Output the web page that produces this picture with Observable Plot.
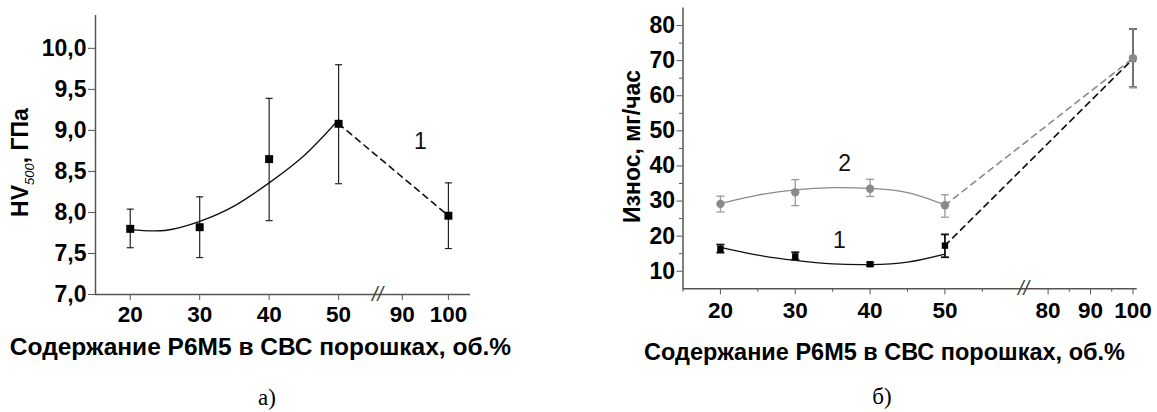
<!DOCTYPE html>
<html>
<head>
<meta charset="utf-8">
<script src="https://cdn.jsdelivr.net/npm/d3@7"></script>
<script src="https://cdn.jsdelivr.net/npm/@observablehq/plot@0.6"></script>
<style>
  body { margin: 0; background: #fff; }
  #wrap { position: relative; width: 1157px; height: 412px; overflow: hidden; background: #fff; }
  .panel { position: absolute; top: 0; }
  .cap { position: absolute; font-family: "Liberation Serif", "Times New Roman", serif; font-size: 23px; line-height: 1; transform: translate(-50%, -50%); white-space: nowrap; }
</style>
</head>
<body>
<div id="wrap">
  <div id="left" class="panel" style="left:0;width:578px"></div>
  <div id="right" class="panel" style="left:578px;width:579px"></div>
  <div class="cap" style="left:267px;top:397px">а)</div>
  <div class="cap" style="left:882px;top:396px">б)</div>
</div>
<script>
// ---------- Panel а): hardness HV500 ----------
const hvX    = [20, 30, 40, 50, 100];
const hvMean = [7.80, 7.82, 8.65, 9.08, 7.96];
const hvLow  = [7.57, 7.45, 7.90, 8.35, 7.56];
const hvHigh = [8.04, 8.19, 9.39, 9.80, 8.36];
// fitted curve (20..50)
const hvFitX = [20, 25, 30, 35, 40, 45, 50];
const hvFitY = [7.79, 7.78, 7.89, 8.08, 8.36, 8.69, 9.13];
const hvYTicks = [7.0, 7.5, 8.0, 8.5, 9.0, 9.5, 10.0];
const hvXTicks = [20, 30, 40, 50, 90, 100];

// ---------- Panel б): wear ----------
const wearX = [20, 30, 40, 50, 100];
const wear1Mean = [16.4, 14.2, 12.0, 17.3, 70.5];
const wear1Low  = [15.3, 13.3, 11.5, 14.0, 62.4];
const wear1High = [17.6, 15.4, 12.5, 20.5, 79.0];
const wear2Mean = [29.2, 32.5, 33.5, 28.8, 70.7];
const wear2Low  = [26.9, 28.7, 31.3, 25.4, 62.4];
const wear2High = [31.4, 36.1, 36.2, 31.8, 79.0];
const wearFitX  = [20, 25, 30, 35, 40, 45, 50];
const wear1FitY = [16.8, 14.6, 13.1, 12.1, 11.9, 12.6, 14.9];
const wear2FitY = [29.3, 31.7, 33.2, 33.8, 33.6, 32.4, 28.9];
const wearYTicks = [10, 20, 30, 40, 50, 60, 70, 80];
const wearYMinor = [15, 25, 35, 45, 55, 65, 75];
const wearXTicks = [20, 30, 40, 50, 80, 90, 100];
const wearXMinor = [15, 25, 35, 45, 55, 85, 95];

const xTitle = "Содержание Р6М5 в СВС порошках, об.%";
const font = "Liberation Sans, Arial, sans-serif";

// horizontal cap symbol for error bars
const capSymbol = { draw(ctx, size) { const r = Math.sqrt(size / Math.PI); ctx.moveTo(-r, 0); ctx.lineTo(r, 0); } };

function rows(xs, m, lo, hi) { return xs.map((x, i) => ({x, mean: m[i], low: lo[i], high: hi[i]})); }
function capsOf(data) { return data.flatMap(d => [{x: d.x, y: d.low}, {x: d.x, y: d.high}]); }
function pts(xs, ys) { return xs.map((x, i) => ({x, y: ys[i]})); }

// ---------- Left chart ----------
const hv = rows(hvX, hvMean, hvLow, hvHigh);
const leftPlot = Plot.plot({
  width: 578, height: 375,
  marginLeft: 95, marginRight: 108, marginTop: 15, marginBottom: 81,
  style: {fontFamily: font, color: "#000", background: "#fff", overflow: "visible"},
  x: {type: "linear", domain: [15, 55.6, 84.6, 104.8], range: [95, 377, 377, 470]},
  y: {type: "linear", domain: [7, 10.4], range: [294, 15]},
  marks: [
    Plot.ruleY([7], {stroke: "#555", strokeWidth: 1.5}),
    Plot.ruleX([15], {stroke: "#555", strokeWidth: 1.5}),
    Plot.axisY(hvYTicks, {label: null, tickSize: 7, tickPadding: 2, stroke: "#555",
      tickFormat: d => d.toFixed(1).replace(".", ","), fontSize: 23, fontWeight: "bold", fill: "#000"}),
    Plot.axisX(hvXTicks, {label: null, tickSize: 6, tickPadding: 6, stroke: "#555",
      tickFormat: d => String(d), fontSize: 22.5, fontWeight: "bold", fill: "#000"}),
    Plot.text(["//"], {x: 70, y: 7, text: d => d, fontSize: 20, fill: "#444", fontStyle: "italic"}),
    Plot.ruleX(hv, {x: "x", y1: "low", y2: "high", stroke: "#222", strokeWidth: 1.2}),
    Plot.dot(capsOf(hv), {x: "x", y: "y", symbol: capSymbol, r: 3.5, stroke: "#222", fill: "none", strokeWidth: 1.2}),
    Plot.line(pts(hvFitX, hvFitY), {x: "x", y: "y", curve: "natural", stroke: "#111", strokeWidth: 1.3}),
    Plot.line(hv.filter(d => d.x >= 50), {x: "x", y: "mean", stroke: "#111", strokeWidth: 1.6, strokeDasharray: "6,5"}),
    Plot.dot(hv, {x: "x", y: "mean", symbol: "square", r: 4.5, fill: "#000", stroke: "none"}),
    Plot.text(["1"], {x: 93.9, y: 8.86, text: d => d, fontSize: 23, fill: "#111"}),
    Plot.text(["HV500, ГПа"], {frameAnchor: "left", textAnchor: "middle", lineAnchor: "middle", dx: -75, dy: 7.5, rotate: -90, text: d => d,
      fontSize: 23, fontWeight: "bold", fill: "#000"}),
    Plot.text([xTitle], {frameAnchor: "bottom", textAnchor: "middle", lineAnchor: "middle", dx: -22.5, dy: 53, text: d => d,
      fontSize: 24.5, fontWeight: "bold", fill: "#000"})
  ]
});
leftPlot.querySelectorAll("text").forEach(t => {
  if (t.textContent === "HV500, ГПа") {
    t.innerHTML = 'HV<tspan font-size="13" font-style="italic" font-weight="normal" dy="6">500</tspan><tspan dy="-6">, ГПа</tspan>';
  }
});
document.getElementById("left").appendChild(leftPlot);

// ---------- Right chart ----------
const w1 = rows(wearX, wear1Mean, wear1Low, wear1High);
const w2 = rows(wearX, wear2Mean, wear2Low, wear2High);
const gray = "#8a8a8a";
const rightPlot = Plot.plot({
  width: 579, height: 375,
  marginLeft: 104.5, marginRight: 20.3, marginTop: 7.5, marginBottom: 86.7,
  style: {fontFamily: font, color: "#000", background: "#fff", overflow: "visible"},
  x: {type: "linear", domain: [15, 60.5, 74.2, 101], range: [104.5, 445, 445, 558.7]},
  y: {type: "linear", domain: [5, 85], range: [288.3, 7.5]},
  marks: [
    Plot.ruleY([5], {stroke: "#555", strokeWidth: 1.5}),
    Plot.ruleX([15], {stroke: "#555", strokeWidth: 1.5}),
    Plot.axisY(wearYTicks, {label: null, tickSize: 6, tickPadding: 2, stroke: "#555",
      tickFormat: d => String(d), fontSize: 23, fontWeight: "bold", fill: "#000"}),
    Plot.axisY(wearYMinor, {label: null, tickSize: 3.5, tickFormat: () => "", stroke: "#555"}),
    Plot.axisX(wearXTicks, {label: null, tickSize: 6, tickPadding: 7, stroke: "#555",
      tickFormat: d => String(d), fontSize: 22.5, fontWeight: "bold", fill: "#000"}),
    Plot.axisX(wearXMinor, {label: null, tickSize: 3.5, tickFormat: () => "", stroke: "#555"}),
    Plot.text(["//"], {x: 67, y: 5, text: d => d, fontSize: 20, fill: "#444", fontStyle: "italic"}),
    // series 1 (black squares)
    Plot.ruleX(w1, {x: "x", y1: "low", y2: "high", stroke: "#111", strokeWidth: 1.8}),
    Plot.dot(capsOf(w1), {x: "x", y: "y", symbol: capSymbol, r: 4, stroke: "#111", fill: "none", strokeWidth: 1.8}),
    Plot.line(pts(wearFitX, wear1FitY), {x: "x", y: "y", curve: "natural", stroke: "#111", strokeWidth: 1.3}),
    Plot.line(w1.filter(d => d.x >= 50), {x: "x", y: "mean", stroke: "#111", strokeWidth: 1.6, strokeDasharray: "6,5"}),
    Plot.dot(w1, {x: "x", y: "mean", symbol: "square", r: 3.6, fill: "#000", stroke: "none"}),
    // series 2 (gray circles)
    Plot.ruleX(w2, {x: "x", y1: "low", y2: "high", stroke: "#999", strokeWidth: 1.3}),
    Plot.dot(capsOf(w2), {x: "x", y: "y", symbol: capSymbol, r: 4, stroke: "#999", fill: "none", strokeWidth: 1.3}),
    Plot.line(pts(wearFitX, wear2FitY), {x: "x", y: "y", curve: "natural", stroke: gray, strokeWidth: 1.3}),
    Plot.line(w2.filter(d => d.x >= 50), {x: "x", y: "mean", stroke: gray, strokeWidth: 1.6, strokeDasharray: "6,5"}),
    Plot.dot(w2, {x: "x", y: "mean", r: 4.2, fill: gray, stroke: "none"}),
    Plot.text(["2"], {x: 36.6, y: 40.7, text: d => d, fontSize: 23, fill: "#111"}),
    Plot.text(["1"], {x: 35.9, y: 18.6, text: d => d, fontSize: 23, fill: "#111"}),
    Plot.text(["Износ, мг/час"], {frameAnchor: "left", textAnchor: "middle", lineAnchor: "middle", dx: -50.5, dy: -2, rotate: -90, text: d => d,
      fontSize: 23, fontWeight: "bold", fill: "#000"}),
    Plot.text([xTitle], {frameAnchor: "bottom", textAnchor: "middle", lineAnchor: "middle", dx: -25.6, dy: 64, text: d => d,
      fontSize: 23.5, fontWeight: "bold", fill: "#000"})
  ]
});
document.getElementById("right").appendChild(rightPlot);
</script>
</body>
</html>
